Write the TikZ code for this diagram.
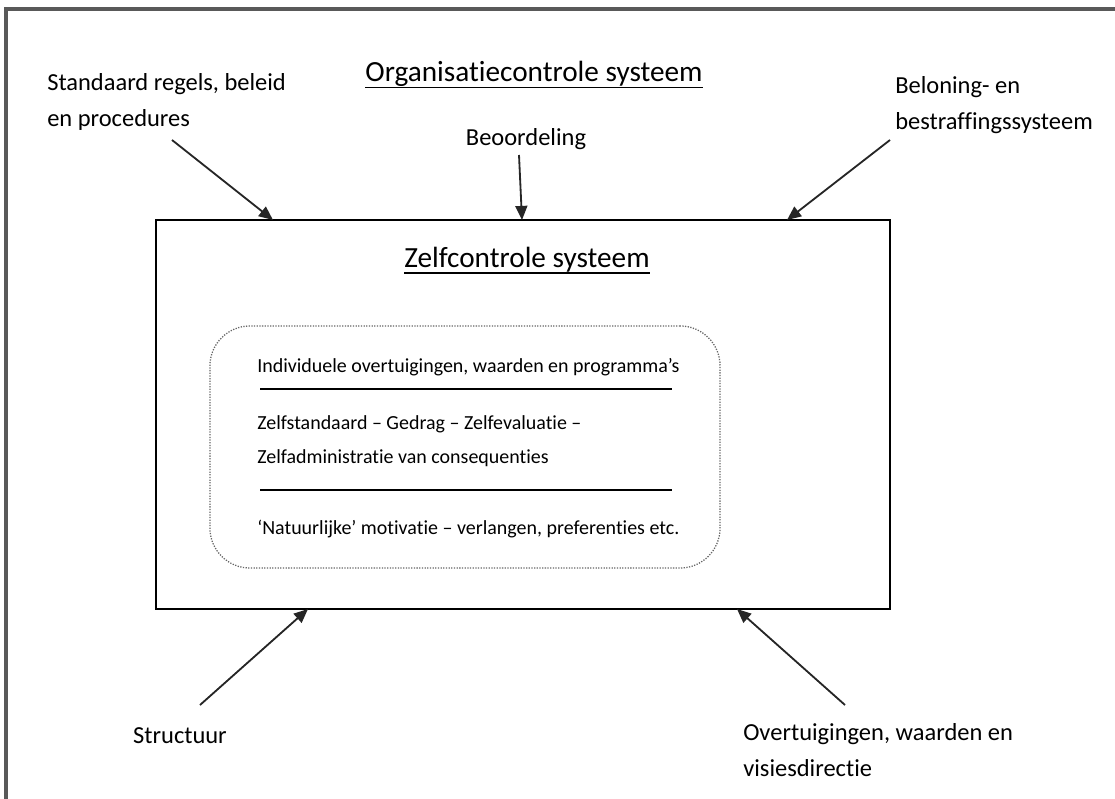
\documentclass[tikz,border=0pt]{standalone}
\usepackage{fontspec}
\setmainfont{Carlito}[Ligatures=NoCommon]
\usetikzlibrary{arrows.meta}

\begin{document}
\begin{tikzpicture}[x=0.025cm,y=-0.025cm,
    lbl/.style={font=\fontsize{17.4}{25.6}\selectfont,inner sep=0pt,align=left},
    ttl/.style={font=\fontsize{20.8}{25}\selectfont,inner sep=0pt},
    txt/.style={font=\fontsize{14.2}{24.2}\selectfont,inner sep=0pt,align=left},
    arr/.style={-{Triangle[length=10pt,width=8.5pt]},line width=1.3pt,draw=black!85}]
    \useasboundingbox (0,0) rectangle (1115,799);
    \draw[line width=2.2pt,black!65] (6,799)--(6,9)--(1115,9);

    % boxes
    \node[draw,line width=1.5pt,minimum width=18.35cm,minimum height=9.725cm] (box) at (523,414.5) {};
    \node[draw=black!60,densely dotted,line width=0.9pt,rounded corners=1cm,
          minimum width=12.75cm,minimum height=6.05cm] (inner) at (465,447) {};

    % titles
    \node[ttl,anchor=base] (org) at (534,82) {Organisatiecontrole systeem};
    \draw[line width=1pt] ([yshift=-4pt]org.base west)--([yshift=-4pt]org.base east);
    \node[ttl,anchor=base] (zelf) at (527,268) {Zelfcontrole systeem};
    \draw[line width=1pt] ([yshift=-3.6pt]zelf.base west)--([yshift=-3.6pt]zelf.base east);

    % labels
    \node[lbl,anchor=north west] (std) at (47,73) {Standaard regels, beleid\\en procedures};
    \node[lbl,anchor=base] (beo) at (526,146) {Beoordeling};
    \node[lbl,anchor=north west] (bel) at (895,76) {Beloning- en\\bestraffingssysteem};
    \node[lbl,anchor=base] (str) at (180,743) {Structuur};
    \node[lbl,anchor=north west] (ovt) at (743,723) {Overtuigingen, waarden en\\visiesdirectie};

    % inner text
    \node[txt,anchor=base west] (ind) at (257,372) {Individuele overtuigingen, waarden en programma’s};
    \node[txt,anchor=base west] (zs) at (257,429) {Zelfstandaard – Gedrag – Zelfevaluatie –};
    \node[txt,anchor=base west] (za) at (257,463) {Zelfadministratie van consequenties};
    \node[txt,anchor=base west] (nat) at (257,534) {‘Natuurlijke’ motivatie – verlangen, preferenties etc.};
    \draw[line width=1.3pt] (260,389)--(672,389);
    \draw[line width=1.3pt] (260,490)--(672,490);

    % arrows
    \coordinate (std-t) at (172,140);  \coordinate (std-h) at (273,220);
    \coordinate (beo-t) at (519,155);  \coordinate (beo-h) at (522,220);
    \coordinate (bel-t) at (890,140);  \coordinate (bel-h) at (787,220);
    \coordinate (str-t) at (200,705);  \coordinate (str-h) at (308,609);
    \coordinate (ovt-t) at (845,705);  \coordinate (ovt-h) at (737,609);
    \foreach \n in {std,beo,bel,str,ovt}
    \draw[arr] (\n-t)--(\n-h);
\end{tikzpicture}
\end{document}
